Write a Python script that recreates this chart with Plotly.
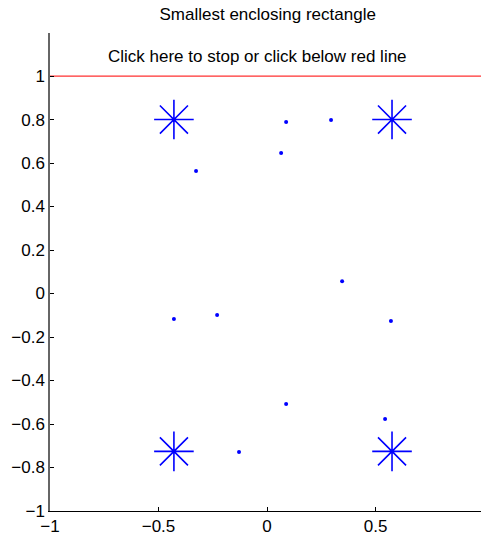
import plotly.graph_objects as go

# Data points (random sample)
pts_x = [-0.327, 0.088, 0.295, 0.065, 0.346, -0.429, -0.230, 0.571, 0.088, 0.544, -0.129]
pts_y = [0.563, 0.789, 0.798, 0.646, 0.057, -0.117, -0.099, -0.126, -0.508, -0.577, -0.729]

# Rectangle corners
corner_x = [-0.429, 0.576, -0.429, 0.576]
corner_y = [0.800, 0.800, -0.726, -0.726]

# Red stop line
line_x = [-1.0, 1.0]
line_y = [1.0, 1.0]

x_ticks = [-1, -0.5, 0, 0.5]
y_ticks = [-1, -0.8, -0.6, -0.4, -0.2, 0, 0.2, 0.4, 0.6, 0.8, 1]

font = "Liberation Sans, Arial, sans-serif"

fig = go.Figure()
fig.add_trace(go.Scatter(x=line_x, y=line_y, mode="lines",
                         line=dict(color="#ff3030", width=1.2), hoverinfo="skip"))
fig.add_trace(go.Scatter(x=pts_x, y=pts_y, mode="markers",
                         marker=dict(color="#0000ff", size=4, line=dict(width=0))))
fig.add_trace(go.Scatter(x=corner_x, y=corner_y, mode="markers",
                         marker=dict(symbol="asterisk-open", size=33, color="#0000ff",
                                     line=dict(color="#2030ff", width=1.6))))

fig.add_annotation(x=-0.046, y=1.092, text="Click here to stop or click below red line",
                   showarrow=False, font=dict(family=font, size=17, color="black"),
                   xanchor="center", yanchor="middle")

fig.update_layout(
    width=481, height=538,
    margin=dict(l=50, r=0, t=33, b=27, autoexpand=False),
    paper_bgcolor="white", plot_bgcolor="white",
    showlegend=False,
    title=dict(text="Smallest enclosing rectangle", xref="container", x=0.5565,
               xanchor="center", yref="container", y=0.974, yanchor="middle",
               font=dict(family=font, size=17, color="black")),
    font=dict(family=font, size=17, color="black"),
)
fig.update_xaxes(range=[-1, 0.986], tickvals=x_ticks, ticktext=["−1", "−0.5", "0", "0.5"],
                 showgrid=False, zeroline=False, showline=True, linecolor="black",
                 linewidth=1, ticks="inside", ticklen=4, tickcolor="black",
                 tickfont=dict(family=font, size=17))
fig.update_yaxes(range=[-1, 1.198], tickvals=y_ticks,
                 ticktext=["−1", "−0.8", "−0.6", "−0.4", "−0.2", "0", "0.2", "0.4", "0.6", "0.8", "1"],
                 showgrid=False, zeroline=False, showline=True, linecolor="#666666",
                 linewidth=1.5, ticks="inside", ticklen=4, tickcolor="black",
                 tickfont=dict(family=font, size=17))

fig.write_html("out.html", config={"displayModeBar": False},
               post_script="document.body.style.margin='0';document.body.style.overflow='hidden';")
